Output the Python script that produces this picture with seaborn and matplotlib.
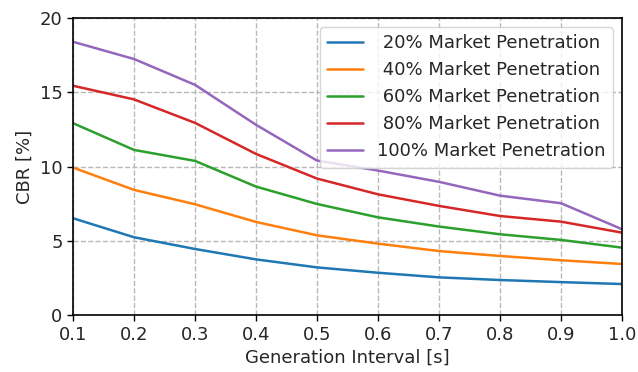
import matplotlib
matplotlib.use("Agg")
import matplotlib.pyplot as plt
import seaborn as sns
import pandas as pd

interval = [0.1, 0.2, 0.3, 0.4, 0.5, 0.6, 0.7, 0.8, 0.9, 1.0]
mp20 = [6.52, 5.24, 4.45, 3.75, 3.21, 2.85, 2.54, 2.36, 2.22, 2.09]
mp40 = [9.93, 8.43, 7.46, 6.27, 5.37, 4.81, 4.31, 3.98, 3.69, 3.44]
mp60 = [12.92, 11.12, 10.38, 8.65, 7.48, 6.58, 5.96, 5.44, 5.06, 4.54]
mp80 = [15.44, 14.52, 12.94, 10.85, 9.19, 8.13, 7.35, 6.67, 6.29, 5.55]
mp100 = [18.4, 17.24, 15.5, 12.81, 10.4, 9.73, 8.97, 8.04, 7.53, 5.78]
labels = [" 20% Market Penetration", " 40% Market Penetration",
          " 60% Market Penetration", " 80% Market Penetration",
          "100% Market Penetration"]

frames = []
for lab, vals in zip(labels, [mp20, mp40, mp60, mp80, mp100]):
    frames.append(pd.DataFrame({"x": interval, "y": vals, "series": lab}))
df = pd.concat(frames, ignore_index=True)

sns.set_style("ticks")
plt.rcParams["font.family"] = ["DejaVu Sans"]

fig = plt.figure(figsize=(6.38, 3.72), dpi=100)
ax = fig.add_axes([0.1144, 0.153, 0.8606, 0.7986])
palette = ["#1f77b4", "#ff7f0e", "#2ca02c", "#d62728", "#9467bd"]
sns.lineplot(data=df, x="x", y="y", hue="series", palette=palette, ax=ax, linewidth=1.8)

ax.set_xlim(0.1, 1.0)
ax.set_ylim(0, 20)
ax.set_xticks(interval)
ax.set_yticks([0, 5, 10, 15, 20])
ax.grid(True, linestyle="--", color="#b8b8b8", linewidth=1)
ax.set_xlabel("Generation Interval [s]", fontsize=13)
ax.set_ylabel("CBR [%]", fontsize=13)
ax.tick_params(labelsize=13, direction="out", length=4, width=1, color="black")
for s in ax.spines.values():
    s.set_visible(True)
    s.set_color("black")
    s.set_linewidth(1.2)
leg = ax.legend(loc="upper right", fontsize=13, frameon=True, borderaxespad=0.5)
leg.get_frame().set_edgecolor("#cccccc")
fig.savefig("out.png", dpi=100)
